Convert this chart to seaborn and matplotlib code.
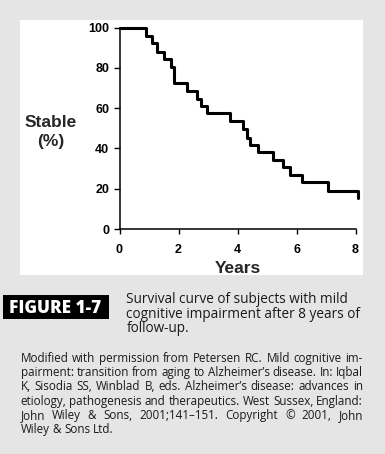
import numpy as np
import pandas as pd
import matplotlib
matplotlib.use("Agg")
import matplotlib.pyplot as plt
import seaborn as sns
from matplotlib.patches import Rectangle

# ---------------- data ----------------
years = [0, 0.90, 1.09, 1.26, 1.51, 1.73, 1.84, 2.28, 2.64, 2.75, 2.95,
         3.75, 4.18, 4.31, 4.42, 4.70, 5.21, 5.55, 5.78, 6.18, 7.08, 8.10]
stable = [100, 95.9, 92.2, 87.8, 84.3, 80.6, 72.7, 68.7, 64.6, 61.1, 57.5,
          53.5, 49.5, 45.0, 41.7, 38.4, 34.3, 30.6, 26.8, 23.3, 18.8, 15.2]
x_ticks = [0, 2, 4, 6, 8]
y_ticks = [0, 20, 40, 60, 80, 100]
x_label = "Years"
y_label = "Stable\n(%)"
figure_tag = "FIGURE 1-7"
caption_lines = ["Survival curve of subjects with mild",
                 "cognitive impairment after 8 years of",
                 "follow-up."]
footnote_lines = ["Modified with permission from Petersen RC. Mild cognitive im-",
                  "pairment: transition from aging to Alzheimer\u2019s disease. In: Iqbal",
                  "K, Sisodia SS, Winblad B, eds. Alzheimer\u2019s disease: advances in",
                  "etiology, pathogenesis and therapeutics. West Sussex, England:",
                  "John Wiley & Sons, 2001;141\u2013151. Copyright \u00a9 2001, John",
                  "Wiley & Sons Ltd."]

df = pd.DataFrame({"Years": years, "Stable": stable})

# ---------------- figure ----------------
W, H = 385, 454
sns.set_style("ticks")
plt.rcParams["font.family"] = ["Liberation Sans", "DejaVu Sans"]

fig = plt.figure(figsize=(W / 100, H / 100), dpi=100)
fig.patch.set_facecolor("#e5e5e5")


def fx(x):
    return x / W


def fy(y):
    return 1 - y / H


# white panel behind chart
fig.patches.append(Rectangle((fx(20), fy(275)), fx(363) - fx(20), fy(20) - fy(275),
                             transform=fig.transFigure, facecolor="white",
                             edgecolor="none", zorder=-1))

ax = fig.add_axes([fx(119.5), fy(229), fx(355.5) - fx(119.5), fy(27.7) - fy(229)])
ax.set_facecolor("none")
ax.set_zorder(2)

sns.lineplot(data=df, x="Years", y="Stable", drawstyle="steps-post",
             color="black", linewidth=2.2, ax=ax, clip_on=False)

ax.set_xlim(0, 8)
ax.set_ylim(0, 100)
ax.set_xticks(x_ticks)
ax.set_yticks(y_ticks)
ax.set_xticklabels([str(t) for t in x_ticks], fontweight="bold", fontsize=9)
ax.set_yticklabels([str(t) for t in y_ticks], fontweight="bold", fontsize=9)
ax.tick_params(axis="x", direction="out", length=3.5, width=1, pad=7, colors="black")
ax.tick_params(axis="y", direction="out", length=4, width=1, pad=3.5, colors="black")
for s in ["top", "right"]:
    ax.spines[s].set_visible(False)
for s in ["left", "bottom"]:
    ax.spines[s].set_linewidth(1.1)
    ax.spines[s].set_color("black")

ax.set_xlabel(x_label, fontweight="bold", fontsize=12.5, labelpad=4)
ax.set_ylabel("")
fig.text(fx(51), fy(146), y_label, ha="center", va="baseline",
         fontweight="bold", fontsize=12.5, linespacing=1.35)

# figure tag
fig.patches.append(Rectangle((fx(3), fy(319)), fx(109) - fx(3), fy(295) - fy(319),
                             transform=fig.transFigure, facecolor="black",
                             edgecolor="none", zorder=1))
fig.text(fx(55.5), fy(313), figure_tag, ha="center", va="baseline", color="white",
         fontweight=800, fontsize=12.3, family=["Open Sans", "DejaVu Sans"], zorder=2)

text_color = "#1a1a1a"
cap_font = ["Open Sans", "DejaVu Sans"]
cap_baselines = [303, 318, 332]
for i, line in enumerate(caption_lines):
    fig.text(fx(126.5), fy(cap_baselines[i]), line, ha="left", va="baseline",
             fontsize=9.8, color=text_color, family=cap_font)

renderer = fig.canvas.get_renderer()


def justified(line, x0, x1, y, justify=True, **kw):
    words = line.split(" ")
    widths = []
    for w in words:
        t = fig.text(0, 0, w, **kw)
        widths.append(t.get_window_extent(renderer).width)
        t.remove()
    sp = fig.text(0, 0, "a a", **kw)
    sp2 = fig.text(0, 0, "aa", **kw)
    space = sp.get_window_extent(renderer).width - sp2.get_window_extent(renderer).width
    sp.remove()
    sp2.remove()
    if justify and len(words) > 1:
        gap = (x1 - x0 - sum(widths)) / (len(words) - 1)
    else:
        gap = space
    x = x0
    for w, wd in zip(words, widths):
        fig.text(fx(x), fy(y), w, ha="left", va="baseline", **kw)
        x += wd + gap


foot_kw = dict(fontsize=8.4, color=text_color, family=cap_font)
foot_baselines = [362, 376, 390, 405, 419, 433]
for i, line in enumerate(footnote_lines):
    justified(line, 20.5, 363, foot_baselines[i],
              justify=(i < len(footnote_lines) - 1), **foot_kw)

fig.savefig("out.png", dpi=100, facecolor=fig.get_facecolor())
